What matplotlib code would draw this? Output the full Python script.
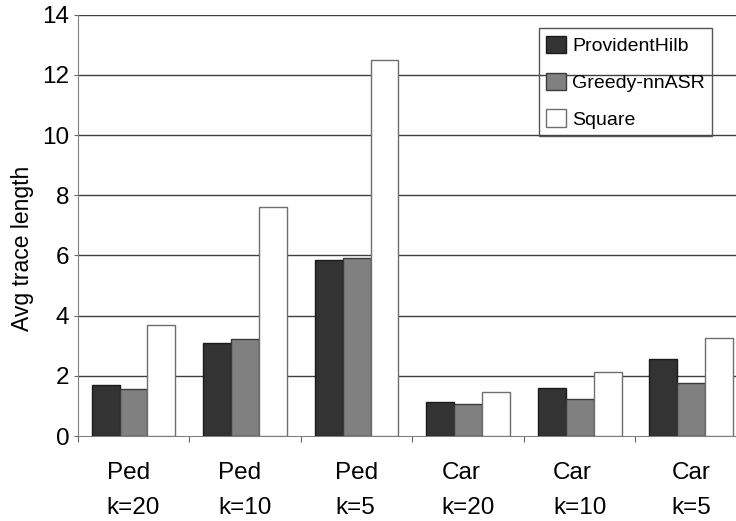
import numpy as np
import matplotlib
matplotlib.use('Agg')
import matplotlib.pyplot as plt

plt.rcParams['font.family'] = ['Liberation Sans', 'DejaVu Sans']

# average trace length per scenario
groups = ['Ped\nk=20', 'Ped\nk=10', 'Ped\nk=5', 'Car\nk=20', 'Car\nk=10', 'Car\nk=5']
provident = [1.68, 3.10, 5.85, 1.14, 1.60, 2.56]
greedy = [1.57, 3.22, 5.93, 1.05, 1.22, 1.75]
square = [3.70, 7.62, 12.48, 1.46, 2.14, 3.25]

series = [('ProvidentHilb', provident, '#333333', '#1a1a1a'),
          ('Greedy-nnASR', greedy, '#808080', '#3a3a3a'),
          ('Square', square, '#ffffff', '#6e6e6e')]

fig = plt.figure(figsize=(7.36, 5.21), dpi=100)
ax = fig.add_axes([0.1056, 0.1631, 0.9094, 0.8087])

x = np.arange(len(groups)) + 0.5
w = 0.25
for i, (name, vals, fc, ec) in enumerate(series):
    ax.bar(x + (i - 1) * w, vals, w, color=fc, edgecolor=ec, linewidth=1.0,
           label=name, zorder=3)

ax.set_xlim(0, len(groups))
ax.set_ylim(0, 14)
ax.set_yticks(np.arange(0, 15, 2))
ax.tick_params(axis='y', labelsize=17.5, length=3, pad=3, color='#666666')

# group boundaries get the tick marks, labels sit at the centres
ax.set_xticks(np.arange(0, len(groups) + 1))
ax.set_xticklabels([])
ax.tick_params(axis='x', which='major', length=4, color='#666666')
ax.set_xticks(x, minor=True)
ax.set_xticklabels(groups, minor=True, fontsize=17.5, linespacing=1.75,
                   multialignment='left')
ax.tick_params(axis='x', which='minor', length=0, pad=19)

for y in range(2, 15, 2):
    ax.axhline(y, color='#404040', linewidth=1.0, zorder=1)

for s in ['top', 'right']:
    ax.spines[s].set_visible(False)
for s in ['left', 'bottom']:
    ax.spines[s].set_color('#808080')

ax.set_ylabel('Avg trace length', fontsize=16.5)
ax.yaxis.set_label_coords(-0.066, 0.445)

leg = ax.legend(loc='upper left', bbox_to_anchor=(538.7 / 736, 1 - 28.3 / 521),
                bbox_transform=fig.transFigure, fontsize=14, frameon=True,
                fancybox=False, edgecolor='#555555',
                handlelength=1.0, handleheight=1.0, handletextpad=0.35,
                labelspacing=0.9, borderpad=0.38, borderaxespad=0)
frame = leg.get_frame()
frame.set_facecolor('none')
frame.set_alpha(None)
frame.set_linewidth(1.0)

fig.savefig('out.png', dpi=100)
